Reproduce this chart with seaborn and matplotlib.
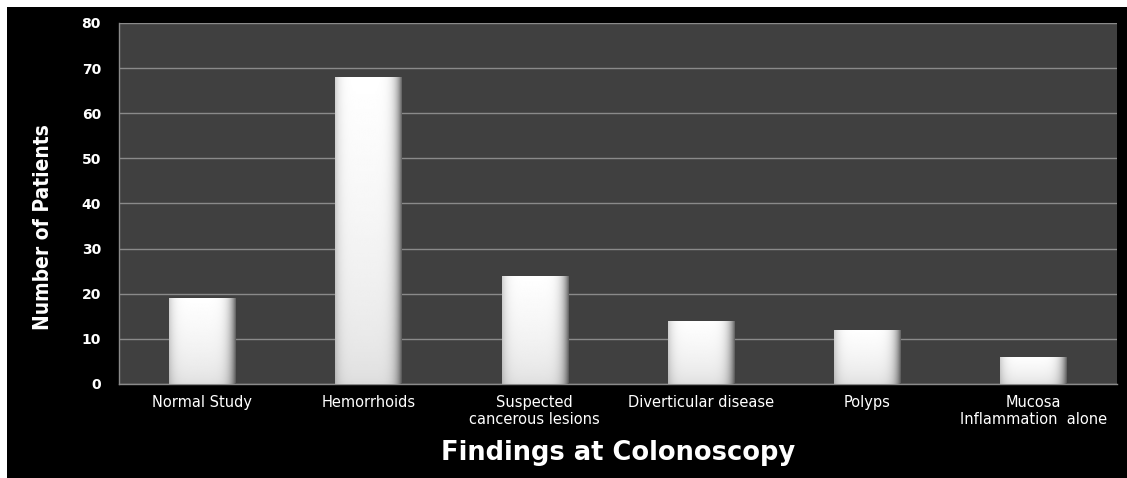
import matplotlib
matplotlib.use("Agg")
import matplotlib.pyplot as plt
import seaborn as sns
import pandas as pd
import numpy as np
from matplotlib.patches import Rectangle

# data
findings = ['Normal Study', 'Hemorrhoids', 'Suspected\ncancerous lesions',
            'Diverticular disease', 'Polyps', 'Mucosa\nInflammation  alone']
patients = [19, 68, 24, 14, 12, 6]
y_ticks = [0, 10, 20, 30, 40, 50, 60, 70, 80]

df = pd.DataFrame({'Finding': findings, 'Patients': patients})

sns.set_style("dark")
plt.rcParams['font.family'] = ['DejaVu Sans']

fig = plt.figure(figsize=(11.27, 4.78), dpi=100)
fig.patch.set_facecolor('white')
# black frame, leaving a thin white strip on left and top
fig.patches.append(Rectangle((7 / 1127, 0), 1, 1 - 7 / 478, transform=fig.transFigure,
                             facecolor='black', edgecolor='none', zorder=-10))

ax = fig.add_axes([0.1056, 0.1967, 0.8854, 0.7553])
ax.set_facecolor('#404040')

sns.barplot(data=df, x='Finding', y='Patients', ax=ax, width=0.4,
            color='white', edgecolor='none', zorder=3)

# gradient fill for bars (white centre, grey bevelled edges)
xs = np.linspace(0, 1, 200)
prof = 1 - 0.35 * (np.abs(xs - 0.45) * 2) ** 6
grad = np.tile(prof, (100, 1))
ys = np.linspace(0, 1, 100)[:, None]
grad = grad * (0.86 + 0.14 * np.sqrt(ys))
for bar in ax.patches:
    x0, y0 = bar.get_x(), bar.get_y()
    w, h = bar.get_width(), bar.get_height()
    im = ax.imshow(grad, cmap='gray', vmin=0, vmax=1, aspect='auto',
                   extent=(x0, x0 + w, y0, y0 + h), origin='lower', zorder=4)
    im.set_clip_path(bar)

ax.set_xlim(-0.5, len(findings) - 0.5)
ax.set_ylim(0, 80)
ax.set_yticks(y_ticks)
ax.grid(axis='y', color='#8a8a8a', linewidth=1, zorder=0)
ax.grid(axis='x', visible=False)
ax.set_axisbelow(True)

for s in ['top', 'right']:
    ax.spines[s].set_visible(False)
for s in ['left', 'bottom']:
    ax.spines[s].set_color('#8a8a8a')
    ax.spines[s].set_linewidth(1)

ax.tick_params(axis='y', colors='#8a8a8a', length=6, width=1, direction='out',
               labelcolor='white', labelsize=10, pad=7)
ax.tick_params(axis='x', which='major', length=0, labelcolor='white', labelsize=10.5, pad=8)
ax.set_xticks(np.arange(-0.5, len(findings), 1), minor=True)
ax.tick_params(axis='x', which='minor', length=5, width=1, color='#8a8a8a', direction='out')
for lbl in ax.get_yticklabels():
    lbl.set_fontweight('bold')

ax.set_xlabel('Findings at Colonoscopy', color='white', fontsize=18.5, fontweight='bold', labelpad=9)
ax.set_ylabel('Number of Patients', color='white', fontsize=15, fontweight='bold',
              fontstretch='condensed')
ax.yaxis.set_label_coords(-0.066, 0.435)

fig.savefig('out.png', dpi=100, facecolor=fig.get_facecolor())
